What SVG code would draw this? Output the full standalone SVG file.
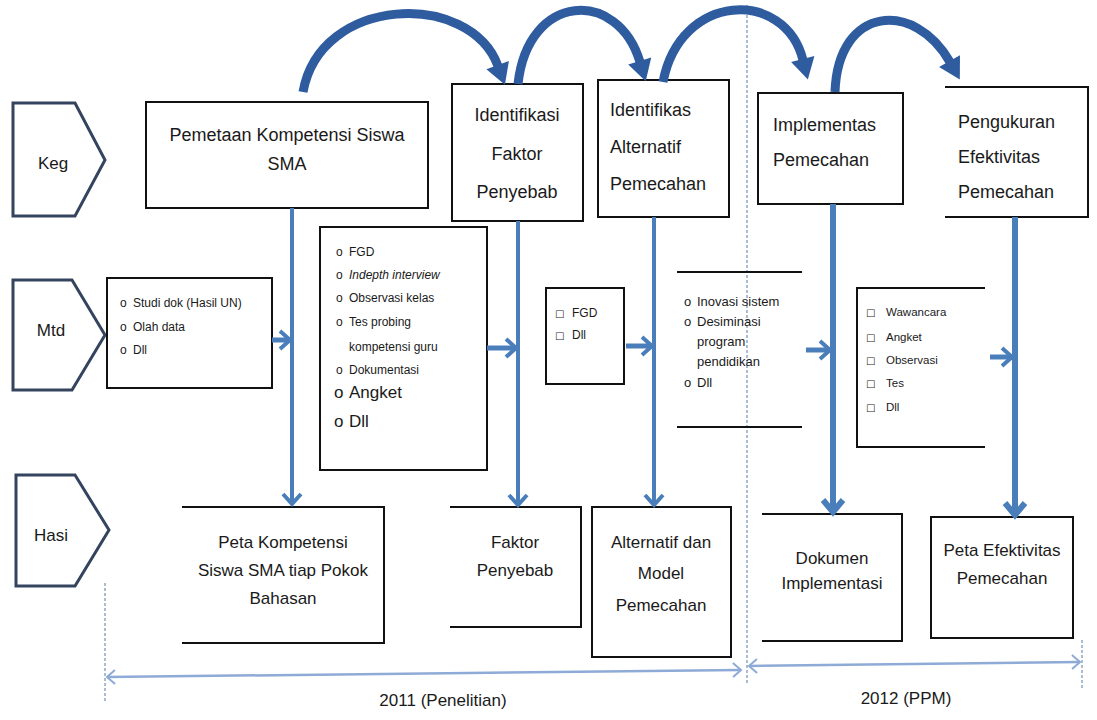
<svg xmlns="http://www.w3.org/2000/svg" width="1097" height="720" viewBox="0 0 1097 720">
<defs>
<style>
.box{fill:#fff;stroke:#111;stroke-width:2}
.edge{fill:none;stroke:#111;stroke-width:2}
.tag{fill:#fff;stroke:#34445e;stroke-width:3;stroke-linejoin:miter}
.t{font-family:"Liberation Sans",Arial,sans-serif;font-size:17px;fill:#1a1a1a}
.k{font-family:"Liberation Sans",Arial,sans-serif;font-size:18px;fill:#1a1a1a}
.s{font-family:"Liberation Sans",Arial,sans-serif;font-size:12px;fill:#1a1a1a}
.m{font-family:"Liberation Sans",Arial,sans-serif;font-size:13px;fill:#1a1a1a}
.w{font-family:"Liberation Sans",Arial,sans-serif;font-size:11.5px;fill:#1a1a1a}
.b{font-family:"DejaVu Sans",sans-serif;font-size:10px;fill:#1a1a1a}
.c{text-anchor:middle}
.arc{fill:none;stroke:#2f5b9f;stroke-width:9}
.vline{fill:none;stroke:#4a7ebb;stroke-width:4}
.vthick{fill:none;stroke:#4a7ebb;stroke-width:6}
.harrow{fill:none;stroke:#4a7ebb;stroke-width:5}
.dash{fill:none;stroke:#8fa7c2;stroke-width:1.5;stroke-dasharray:3 2}
.tl{fill:none;stroke:#8eaad6;stroke-width:2.5}
</style>
<marker id="big" markerUnits="userSpaceOnUse" markerWidth="24" markerHeight="26" viewBox="0 -13 22 26" refX="1" refY="0" orient="auto" overflow="visible">
<path d="M0,-12 L21,0 L0,12 z" fill="#2f5b9f"/>
</marker>
<marker id="vee" markerUnits="userSpaceOnUse" markerWidth="16" markerHeight="24" viewBox="-14 -12 16 24" refX="0" refY="0" orient="auto" overflow="visible">
<path d="M-10,-9 L0,0 L-10,9" fill="none" stroke="#4a7ebb" stroke-width="4"/>
</marker>
<marker id="veeB" markerUnits="userSpaceOnUse" markerWidth="18" markerHeight="26" viewBox="-16 -13 18 26" refX="0" refY="0" orient="auto" overflow="visible">
<path d="M-12,-10 L0,0 L-12,10" fill="none" stroke="#4a7ebb" stroke-width="6"/>
</marker>
<marker id="tlh" markerUnits="userSpaceOnUse" markerWidth="12" markerHeight="16" viewBox="-10 -8 12 16" refX="0" refY="0" orient="auto-start-reverse" overflow="visible">
<path d="M-8,-7 L0,0 L-8,7" fill="none" stroke="#8eaad6" stroke-width="2"/>
</marker>
</defs>
<rect width="1097" height="720" fill="#fff"/>

<g id="dividers">
<path class="dash" d="M747,5 V685"/>
<path class="dash" d="M105,583 V702"/>
<path class="dash" d="M1082,640 V688"/>
</g>

<g id="tag-keg">
<path class="tag" d="M13,103 H75 L105,160 L75,216 H13 Z"/>
<text class="t c" x="53" y="169">Keg</text>
</g>
<g id="tag-mtd">
<path class="tag" d="M13,280 H72 L105,335 L72,390 H13 Z"/>
<text class="t c" x="51" y="336">Mtd</text>
</g>
<g id="tag-hasil">
<path class="tag" d="M16,475 H75 L109,530 L75,586 H16 Z"/>
<text class="t c" x="51" y="541">Hasi</text>
</g>

<g id="keg-pemetaan">
<rect class="box" x="146" y="102" width="282" height="106"/>
<text class="k c" x="287" y="141">Pemetaan Kompetensi Siswa</text>
<text class="k c" x="287" y="170">SMA</text>
</g>
<g id="keg-faktor">
<rect class="box" x="452" y="84" width="131" height="137"/>
<text class="k c" x="517" y="121">Identifikasi</text>
<text class="k c" x="517" y="160">Faktor</text>
<text class="k c" x="517" y="198">Penyebab</text>
</g>
<g id="keg-alternatif">
<rect class="box" x="598" y="80" width="131" height="137"/>
<text class="k" x="610" y="116">Identifikas</text>
<text class="k" x="610" y="153">Alternatif</text>
<text class="k" x="610" y="190">Pemecahan</text>
</g>
<g id="keg-implementasi">
<rect class="box" x="758" y="93" width="145" height="111"/>
<text class="k" x="773" y="131">Implementas</text>
<text class="k" x="773" y="166">Pemecahan</text>
</g>
<g id="keg-pengukuran">
<path class="edge" d="M945,87 H1088 V217 H945"/>
<text class="k" x="958" y="128">Pengukuran</text>
<text class="k" x="958" y="163">Efektivitas</text>
<text class="k" x="958" y="198">Pemecahan</text>
</g>

<g id="mtd-studi">
<rect class="box" x="107" y="278" width="165" height="110"/>
<text class="s" x="120" y="307">o</text><text class="s" x="133" y="307">Studi dok (Hasil UN)</text>
<text class="s" x="120" y="331">o</text><text class="s" x="133" y="331">Olah data</text>
<text class="s" x="120" y="354">o</text><text class="s" x="133" y="354">Dll</text>
</g>
<g id="mtd-fgd">
<rect class="box" x="320" y="227" width="167" height="243"/>
<text class="s" x="336" y="256">o</text><text class="s" x="349" y="256">FGD</text>
<text class="s" x="336" y="279">o</text><text class="s" x="349" y="279" font-style="italic">Indepth interview</text>
<text class="s" x="336" y="302">o</text><text class="s" x="349" y="302">Observasi kelas</text>
<text class="s" x="336" y="326">o</text><text class="s" x="349" y="326">Tes probing</text>
<text class="s" x="349" y="351">kompetensi guru</text>
<text class="s" x="336" y="374">o</text><text class="s" x="349" y="374">Dokumentasi</text>
<text class="t" x="334" y="398" font-size="15">o</text><text class="t" x="349" y="398" font-size="15">Angket</text>
<text class="t" x="334" y="427" font-size="15">o</text><text class="t" x="349" y="427" font-size="15">Dll</text>
</g>
<g id="mtd-fgd2">
<rect class="box" x="546" y="288" width="78" height="96"/>
<text class="b" x="555" y="317">□</text><text class="s" x="572" y="317">FGD</text>
<text class="b" x="555" y="339">□</text><text class="s" x="572" y="339">Dll</text>
</g>
<g id="mtd-inovasi">
<path class="edge" d="M677,272 H802 M677,427 H802"/>
<text class="m" x="684" y="306">o</text><text class="m" x="697" y="306">Inovasi sistem</text>
<text class="m" x="684" y="326">o</text><text class="m" x="697" y="326">Desiminasi</text>
<text class="m" x="697" y="346">program</text>
<text class="m" x="697" y="366">pendidikan</text>
<text class="m" x="684" y="387">o</text><text class="m" x="697" y="387">Dll</text>
</g>
<g id="mtd-wawancara">
<path class="edge" d="M985,288 H857 V447 H985"/>
<text class="b" x="866" y="316">□</text><text class="w" x="886" y="316">Wawancara</text>
<text class="b" x="866" y="341">□</text><text class="w" x="886" y="341">Angket</text>
<text class="b" x="866" y="364">□</text><text class="w" x="886" y="364">Observasi</text>
<text class="b" x="866" y="387">□</text><text class="w" x="886" y="387">Tes</text>
<text class="b" x="866" y="411">□</text><text class="w" x="886" y="411">Dll</text>
</g>

<g id="hasil-peta">
<path class="edge" d="M182,507 H384 V643 H182"/>
<text class="t c" x="283" y="548">Peta Kompetensi</text>
<text class="t c" x="283" y="576">Siswa SMA tiap Pokok</text>
<text class="t c" x="283" y="604">Bahasan</text>
</g>
<g id="hasil-faktor">
<path class="edge" d="M450,507 H581 V627 H450"/>
<text class="t c" x="515" y="548">Faktor</text>
<text class="t c" x="515" y="576">Penyebab</text>
</g>
<g id="hasil-alternatif">
<rect class="box" x="592" y="507" width="139" height="150"/>
<text class="t c" x="661" y="548">Alternatif dan</text>
<text class="t c" x="661" y="579">Model</text>
<text class="t c" x="661" y="611">Pemecahan</text>
</g>
<g id="hasil-dokumen">
<path class="edge" d="M762,514 H902 V641 H762"/>
<text class="t c" x="832" y="564">Dokumen</text>
<text class="t c" x="832" y="589">Implementasi</text>
</g>
<g id="hasil-efektivitas">
<rect class="box" x="931" y="517" width="142" height="121"/>
<text class="t c" x="1002" y="556">Peta Efektivitas</text>
<text class="t c" x="1002" y="584">Pemecahan</text>
</g>

<g id="connectors">
<path class="arc" d="M303,92 C320,-5 470,-10 498,66" marker-end="url(#big)"/>
<path class="arc" d="M518,84 C528,-8 618,-12 640,62" marker-end="url(#big)"/>
<path class="arc" d="M663,82 C680,-8 785,-12 803,60" marker-end="url(#big)"/>
<path class="arc" d="M835,92 C838,5 915,0 950,62" marker-end="url(#big)"/>

<path class="vline" d="M292,208 V504" marker-end="url(#vee)"/>
<path class="vline" d="M518,221 V505" marker-end="url(#vee)"/>
<path class="vline" d="M654,217 V505" marker-end="url(#vee)"/>
<path class="vthick" d="M833,204 V512" marker-end="url(#veeB)"/>
<path class="vthick" d="M1015,217 V515" marker-end="url(#veeB)"/>

<path class="harrow" d="M272,340 H290" marker-end="url(#vee)"/>
<path class="harrow" d="M487,348 H516" marker-end="url(#vee)"/>
<path class="harrow" d="M626,346 H652" marker-end="url(#vee)"/>
<path class="harrow" d="M806,350 H830" marker-end="url(#vee)"/>
<path class="harrow" d="M990,357 H1012" marker-end="url(#vee)"/>

<path class="tl" d="M107,677 L741,670" marker-start="url(#tlh)" marker-end="url(#tlh)"/>
<path class="tl" d="M749,666 L1080,662" marker-start="url(#tlh)" marker-end="url(#tlh)"/>
</g>

<g id="timeline-labels">
<text class="t c" x="443" y="706" font-size="14">2011 (Penelitian)</text>
<text class="t c" x="906" y="704" font-size="14">2012 (PPM)</text>
</g>
</svg>
